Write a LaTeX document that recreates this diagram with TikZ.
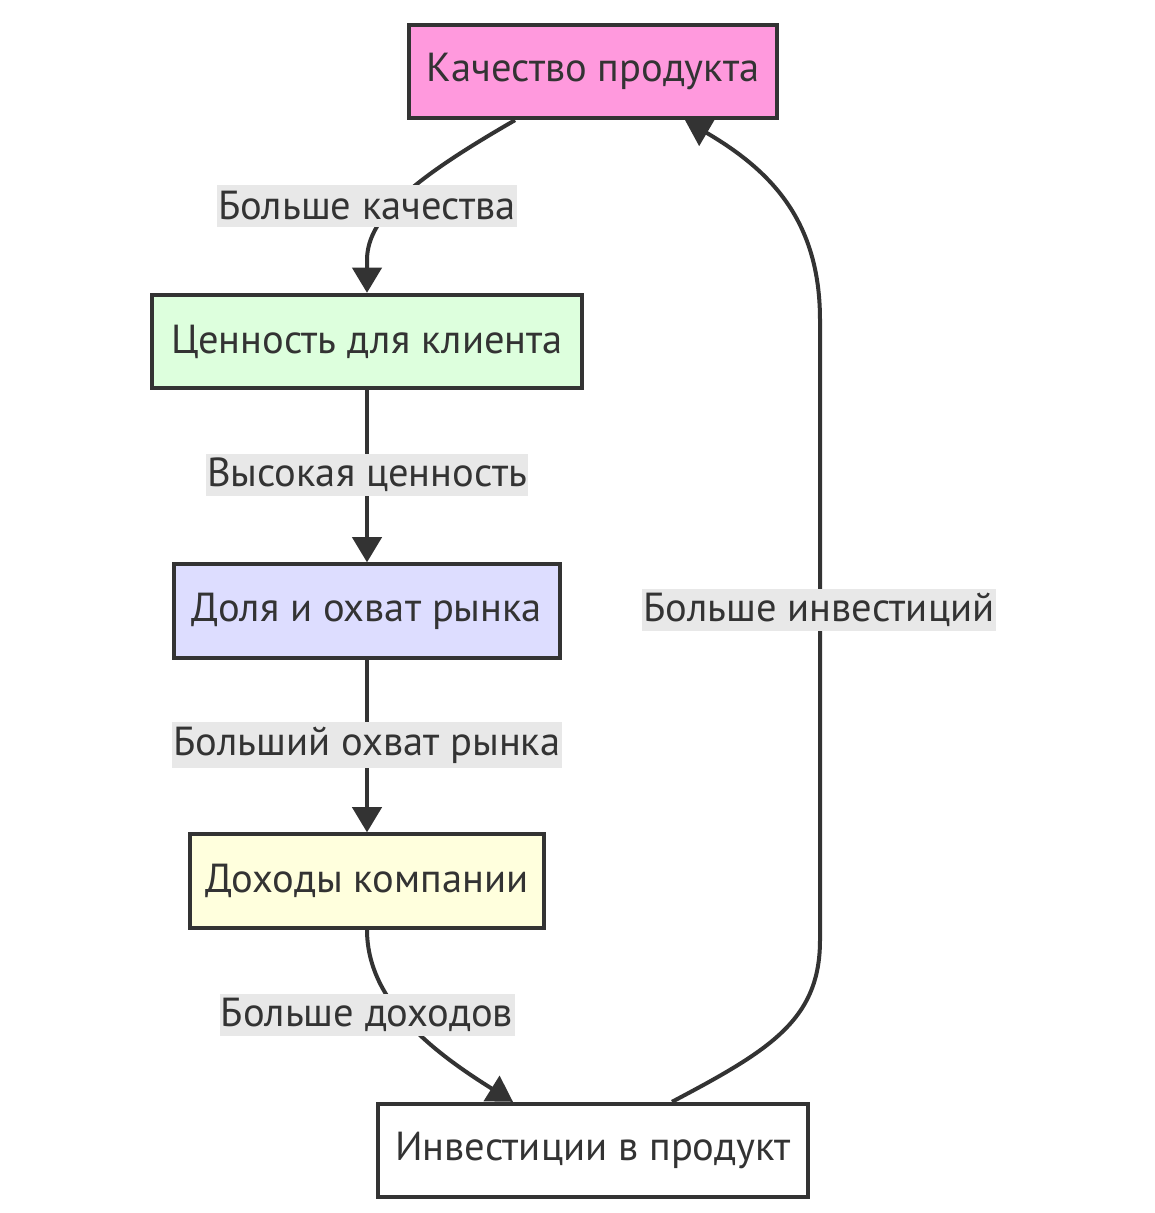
\documentclass[tikz,border=0pt]{standalone}
\usepackage{fontspec}
\setmainfont{PT Sans}
\usetikzlibrary{arrows.meta}
\definecolor{edgegray}{HTML}{333333}
\definecolor{labelbg}{HTML}{E8E8E8}
\definecolor{pinkfill}{HTML}{FF99DD}
\definecolor{greenfill}{HTML}{DDFFDD}
\definecolor{bluefill}{HTML}{DDDDFF}
\definecolor{yellowfill}{HTML}{FFFFDD}
\begin{document}
\begin{tikzpicture}[x=.75pt,y=-.75pt,
  box/.style={draw=edgegray,line width=3pt,minimum height=70pt,inner xsep=2pt,font=\fontsize{30.4}{35}\selectfont,text=edgegray},
  lbl/.style={fill=labelbg,inner xsep=1pt,minimum height=32pt,font=\fontsize{30.4}{35}\selectfont,text=edgegray},
  flow/.style={draw=edgegray,line width=3pt,-{Triangle[width=22pt,length=19pt]}}]
\useasboundingbox (0,0) rectangle (1155,1213);
%
\node[box,fill=pinkfill,minimum width=276pt] (q) at (593,71.5) {Качество продукта};
\node[box,fill=greenfill,minimum width=322pt] (v) at (367,341.5) {Ценность для клиента};
\node[box,fill=bluefill,minimum width=289pt] (m) at (367,611) {Доля и охват рынка};
\node[box,fill=yellowfill,minimum width=266pt] (r) at (367,881) {Доходы компании};
\node[box,fill=white,minimum width=322pt] (i) at (593,1150.5) {Инвестиции в продукт};
%
\draw[flow] (q.south -| 515,0) .. controls (420,175) and (367,215) .. (367,260) -- (v.north);
\draw[flow] (v) -- (m);
\draw[flow] (m) -- (r);
\draw[flow] (r.south) .. controls (367,1000) and (430,1050) .. (i.north -| 513,0);
\draw[flow] (i.north -| 672,0) .. controls (770,1050) and (820,1020) .. (820,940)
  -- (820,320) .. controls (820,220) and (770,170) .. (q.south -| 685,0);
%
\node[lbl] (lq) at (367,206) {Больше качества};
\node[lbl] (lv) at (367,475) {Высокая ценность};
\node[lbl] (lm) at (367,745) {Больший охват рынка};
\node[lbl] (lr) at (367,1015) {Больше доходов};
\node[lbl] (li) at (819,610) {Больше инвестиций};
\end{tikzpicture}
\end{document}
